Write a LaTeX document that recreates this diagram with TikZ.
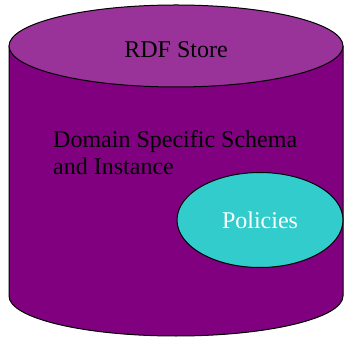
\documentclass[tikz,border=0pt]{standalone}
\usepackage{fontspec}
\setmainfont{Liberation Serif}
\usetikzlibrary{shapes.geometric}
\definecolor{bodypurple}{HTML}{800080}
\definecolor{toppurple}{HTML}{993399}
\definecolor{policycyan}{HTML}{33CCCC}
\begin{document}
\begin{tikzpicture}[x=1pt,y=1pt,
  outline/.style={draw=black,line width=1pt},
  bigtext/.style={font=\fontsize{24}{27}\selectfont,inner sep=0pt}]
\useasboundingbox[fill=white] (0,0) rectangle (344,339);
% cylinder body
\filldraw[outline,fill=bodypurple] (9,293) -- (9,43)
  arc[start angle=180,end angle=360,x radius=167,y radius=40] -- (343,293);
% top ellipse
\filldraw[outline,fill=toppurple] (176,293) ellipse[x radius=167,y radius=41];
\node[bigtext,anchor=base] (store) at (176,281) {RDF Store};
\node[bigtext,anchor=base west,align=left] (schema) at (53,164.5)
  {Domain Specific Schema\\and Instance};
\node[outline,ellipse,fill=policycyan,minimum width=166pt,minimum height=95pt,inner sep=0pt,
  font=\fontsize{24}{27}\selectfont,text=white] (policies) at (260,119) {Policies};
\end{tikzpicture}
\end{document}
